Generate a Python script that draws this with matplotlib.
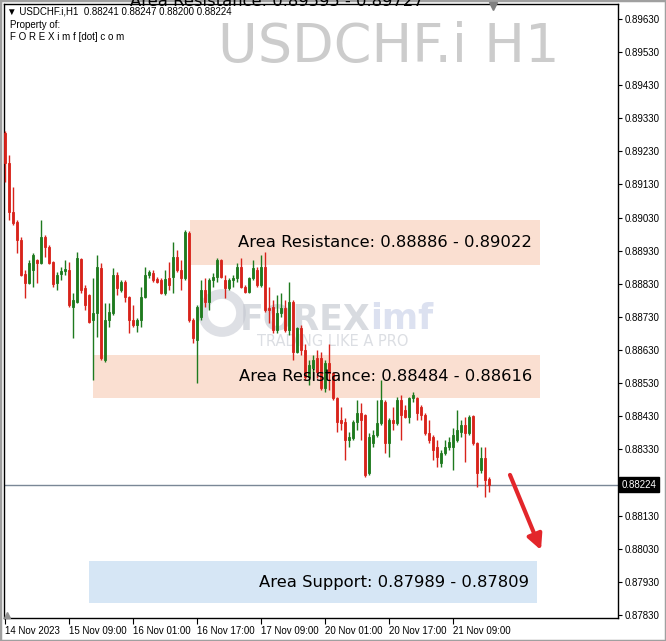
import matplotlib

matplotlib.use("Agg")

import matplotlib.pyplot as plt
import matplotlib.transforms as mtransforms
import numpy as np
from matplotlib.patches import Ellipse, Rectangle


OUTPUT_PATH = "out.png"

SYMBOL = "USDCHF.i H1"
HEADER_LINE = "\u25bc USDCHF.i,H1  0.88241 0.88247 0.88200 0.88224"

# H1 candles, 14 Nov 2023 17:00 -> 21 Nov 2023 18:00
OPEN = [
    0.89286, 0.89195, 0.89047, 0.89017, 0.88963, 0.88860, 0.88833, 0.88872, 0.88902, 0.88893,
    0.88972, 0.88942, 0.88896, 0.88833, 0.88860, 0.88869, 0.88872, 0.88760, 0.88775, 0.88905,
    0.88818, 0.88797, 0.88721, 0.88742, 0.88878, 0.88600, 0.88721, 0.88742, 0.88857, 0.88812,
    0.88836, 0.88791, 0.88721, 0.88706, 0.88721, 0.88791, 0.88857, 0.88863, 0.88845, 0.88842,
    0.88803, 0.88848, 0.88851, 0.88911, 0.88872, 0.88848, 0.88984, 0.88721, 0.88661, 0.88730,
    0.88812, 0.88775, 0.88842, 0.88851, 0.88902, 0.88842, 0.88818, 0.88842, 0.88848, 0.88881,
    0.88821, 0.88806, 0.88848, 0.88872, 0.88827, 0.88881, 0.88757, 0.88760, 0.88691, 0.88742,
    0.88757, 0.88691, 0.88775, 0.88624, 0.88697, 0.88630, 0.88549, 0.88576, 0.88606, 0.88606,
    0.88516, 0.88591, 0.88561, 0.88485, 0.88419, 0.88413, 0.88359, 0.88365, 0.88413, 0.88440,
    0.88434, 0.88259, 0.88350, 0.88374, 0.88410, 0.88473, 0.88350, 0.88419, 0.88410, 0.88479,
    0.88449, 0.88428, 0.88485, 0.88485, 0.88458, 0.88434, 0.88380, 0.88368, 0.88338, 0.88289,
    0.88320, 0.88338, 0.88338, 0.88359, 0.88383, 0.88404, 0.88380, 0.88431, 0.88350, 0.88268,
    0.88304, 0.88241,
]
HIGH = [
    0.89292, 0.89219, 0.89123, 0.89023, 0.88972, 0.88872, 0.88902, 0.88923, 0.88905, 0.89023,
    0.88978, 0.88948, 0.88899, 0.88866, 0.88881, 0.88902, 0.88896, 0.88803, 0.88926, 0.88908,
    0.88827, 0.88800, 0.88848, 0.88917, 0.88893, 0.88772, 0.88772, 0.88878, 0.88866, 0.88842,
    0.88842, 0.88794, 0.88766, 0.88727, 0.88821, 0.88881, 0.88872, 0.88872, 0.88851, 0.88848,
    0.88872, 0.88896, 0.88957, 0.88932, 0.88902, 0.88993, 0.88990, 0.88727, 0.88766, 0.88842,
    0.88848, 0.88848, 0.88863, 0.88908, 0.88905, 0.88857, 0.88848, 0.88857, 0.88893, 0.88908,
    0.88827, 0.88851, 0.88902, 0.88881, 0.88917, 0.88926, 0.88821, 0.88781, 0.88797, 0.88803,
    0.88781, 0.88836, 0.88781, 0.88700, 0.88706, 0.88648, 0.88600, 0.88615, 0.88630, 0.88624,
    0.88600, 0.88648, 0.88564, 0.88488, 0.88458, 0.88425, 0.88383, 0.88419, 0.88479, 0.88470,
    0.88437, 0.88380, 0.88389, 0.88479, 0.88540, 0.88479, 0.88425, 0.88458, 0.88488, 0.88494,
    0.88464, 0.88488, 0.88503, 0.88488, 0.88464, 0.88440, 0.88419, 0.88374, 0.88359, 0.88328,
    0.88359, 0.88368, 0.88395, 0.88449, 0.88419, 0.88428, 0.88434, 0.88434, 0.88353, 0.88338,
    0.88338, 0.88247,
]
LOW = [
    0.89138, 0.89023, 0.89008, 0.88923, 0.88854, 0.88788, 0.88830, 0.88821, 0.88833, 0.88890,
    0.88911, 0.88890, 0.88821, 0.88812, 0.88842, 0.88857, 0.88760, 0.88667, 0.88772, 0.88803,
    0.88751, 0.88712, 0.88540, 0.88670, 0.88600, 0.88594, 0.88700, 0.88736, 0.88797, 0.88806,
    0.88775, 0.88682, 0.88700, 0.88685, 0.88700, 0.88788, 0.88848, 0.88836, 0.88833, 0.88800,
    0.88797, 0.88812, 0.88803, 0.88866, 0.88812, 0.88842, 0.88715, 0.88652, 0.88531, 0.88721,
    0.88760, 0.88751, 0.88821, 0.88836, 0.88848, 0.88788, 0.88812, 0.88821, 0.88836, 0.88818,
    0.88803, 0.88803, 0.88842, 0.88821, 0.88821, 0.88745, 0.88712, 0.88682, 0.88682, 0.88730,
    0.88685, 0.88676, 0.88600, 0.88621, 0.88615, 0.88540, 0.88525, 0.88540, 0.88546, 0.88510,
    0.88504, 0.88510, 0.88479, 0.88383, 0.88389, 0.88298, 0.88338, 0.88359, 0.88389, 0.88359,
    0.88247, 0.88253, 0.88338, 0.88368, 0.88404, 0.88320, 0.88308, 0.88389, 0.88404, 0.88359,
    0.88425, 0.88410, 0.88473, 0.88419, 0.88419, 0.88374, 0.88350, 0.88298, 0.88277, 0.88277,
    0.88313, 0.88328, 0.88268, 0.88353, 0.88368, 0.88292, 0.88374, 0.88344, 0.88217, 0.88259,
    0.88186, 0.88200,
]
CLOSE = [
    0.89195, 0.89047, 0.89014, 0.88963, 0.88857, 0.88833, 0.88893, 0.88917, 0.88893, 0.88972,
    0.88942, 0.88893, 0.88830, 0.88857, 0.88869, 0.88875, 0.88766, 0.88781, 0.88908, 0.88812,
    0.88766, 0.88715, 0.88742, 0.88881, 0.88606, 0.88721, 0.88745, 0.88857, 0.88818, 0.88836,
    0.88791, 0.88721, 0.88706, 0.88721, 0.88791, 0.88857, 0.88866, 0.88842, 0.88836, 0.88803,
    0.88845, 0.88827, 0.88911, 0.88872, 0.88848, 0.88987, 0.88721, 0.88667, 0.88760, 0.88812,
    0.88775, 0.88842, 0.88851, 0.88902, 0.88851, 0.88818, 0.88842, 0.88848, 0.88881, 0.88821,
    0.88806, 0.88848, 0.88878, 0.88827, 0.88881, 0.88751, 0.88751, 0.88691, 0.88742, 0.88757,
    0.88691, 0.88775, 0.88624, 0.88697, 0.88630, 0.88549, 0.88585, 0.88600, 0.88564, 0.88516,
    0.88591, 0.88561, 0.88485, 0.88413, 0.88410, 0.88359, 0.88368, 0.88413, 0.88440, 0.88419,
    0.88253, 0.88368, 0.88374, 0.88410, 0.88479, 0.88350, 0.88419, 0.88410, 0.88479, 0.88434,
    0.88428, 0.88485, 0.88494, 0.88440, 0.88434, 0.88380, 0.88359, 0.88328, 0.88308, 0.88320,
    0.88338, 0.88353, 0.88374, 0.88389, 0.88404, 0.88380, 0.88428, 0.88350, 0.88259, 0.88304,
    0.88238, 0.88224,
]

TIME_TICKS = [0, 16, 32, 48, 64, 80, 96, 112]
TIME_LABELS = [
    "14 Nov 2023",
    "15 Nov 09:00",
    "16 Nov 01:00",
    "16 Nov 17:00",
    "17 Nov 09:00",
    "20 Nov 01:00",
    "20 Nov 17:00",
    "21 Nov 09:00",
]

PRICE_TICKS = [
    0.89630, 0.89530, 0.89430, 0.89330, 0.89230, 0.89130, 0.89030, 0.88930, 0.88830, 0.88730,
    0.88630, 0.88530, 0.88430, 0.88330, 0.88130, 0.88030, 0.87930, 0.87830,
]

# zones: label, box bottom, box top, first bar, last bar, colour
ZONE_LABELS = [
    "Area Resistance: 0.88886 - 0.89022",
    "Area Resistance: 0.88484 - 0.88616",
    "Area Support: 0.87989 - 0.87809",
]
ZONE_BOTTOM = [0.88886, 0.88484, 0.87866]
ZONE_TOP = [0.89022, 0.88616, 0.87992]
ZONE_START = [46.25, 22.0, 21.0]
ZONE_END = [133.75, 133.75, 133.0]
ZONE_COLORS = ["#FADFD1", "#FADFD1", "#D6E6F5"]

ARROW_START = (126.25, 0.88253)
ARROW_END = (134.0, 0.88026)

UP_COLOR = "#1E7A1E"
DOWN_COLOR = "#D8231B"

SCALE_FONT = "Liberation Sans"


def draw_candles(ax) -> None:
    x = np.arange(len(OPEN))
    o = np.array(OPEN)
    h = np.array(HIGH)
    l = np.array(LOW)
    c = np.array(CLOSE)

    up = c >= o
    colors = np.where(up, UP_COLOR, DOWN_COLOR)

    ax.vlines(x, l, h, colors=colors, linewidth=1.0, zorder=3)

    bottom = np.minimum(o, c)
    height = np.maximum(np.abs(c - o), 0.00003)
    ax.bar(x, height, bottom=bottom, width=0.62, color=colors,
           edgecolor=colors, linewidth=0.6, zorder=4)


def draw_zones(ax) -> None:
    for label, lo, hi, start, end, color in zip(
        ZONE_LABELS, ZONE_BOTTOM, ZONE_TOP, ZONE_START, ZONE_END, ZONE_COLORS
    ):
        ax.add_patch(
            Rectangle((start, lo), end - start, hi - lo, facecolor=color, edgecolor="none", zorder=1)
        )
        ax.text(
            end - 2.0,
            (lo + hi) / 2,
            label,
            ha="right",
            va="center",
            fontsize=11.8,
            color="black",
            zorder=6,
        )


def draw_watermarks(fig) -> None:
    fig.text(560 / 666, 1 - 62 / 641, SYMBOL, ha="right", va="baseline",
             fontsize=39, color="#CCCCCC", zorder=0.5)

    # FOREXimf logo in the middle of the chart
    fig.patches.append(
        Ellipse((222 / 666, 1 - 313 / 641), 38 / 666, 38 / 641, transform=fig.transFigure,
                facecolor="none", edgecolor="#C9CCD4", linewidth=7, alpha=0.6, zorder=0.5)
    )
    fig.text(240 / 666, 1 - 329 / 641, "FOREX", ha="left", va="baseline",
             fontsize=25, fontweight="bold", color="#BFC3CC", alpha=0.6, zorder=0.5)
    fig.text(370 / 666, 1 - 329 / 641, "imf", ha="left", va="baseline",
             fontsize=25, fontweight="bold", color="#C5CDE6", alpha=0.6, zorder=0.5)
    fig.text(257 / 666, 1 - 346 / 641, "TRADING LIKE A PRO", ha="left", va="baseline",
             fontsize=10.5, color="#D3D6DC", alpha=0.8, zorder=0.5)


def main() -> None:
    fig = plt.figure(figsize=(6.66, 6.41), dpi=100)
    fig.patch.set_facecolor("white")

    ax = fig.add_axes([4 / 666, 1 - 618 / 641, 614 / 666, 614 / 641])
    ax.set_facecolor("none")
    ax.set_zorder(1)

    draw_zones(ax)
    draw_candles(ax)

    last_close = CLOSE[-1]
    ax.axhline(last_close, color="#7A8796", linewidth=1.0, zorder=2)

    ax.annotate(
        "",
        xy=ARROW_END,
        xytext=ARROW_START,
        arrowprops=dict(arrowstyle="-|>,head_width=0.45,head_length=0.9",
                        color="#E3262B", linewidth=3, shrinkA=0, shrinkB=0),
        zorder=7,
    )

    ax.set_xlim(-0.25, 153.25)
    ax.set_ylim(0.87821, 0.89675)

    ax.yaxis.tick_right()
    ax.set_yticks(PRICE_TICKS)
    ax.set_yticklabels([f"{p:.5f}" for p in PRICE_TICKS], fontfamily=SCALE_FONT)
    ax.tick_params(axis="y", direction="out", length=3, width=0.8, pad=2, labelsize=7)

    ax.set_xticks(TIME_TICKS)
    ax.set_xticklabels(TIME_LABELS, fontfamily=SCALE_FONT)
    ax.tick_params(axis="x", direction="out", length=4, width=0.8, pad=2, labelsize=7)
    for label in ax.get_xticklabels():
        label.set_horizontalalignment("left")

    for spine in ax.spines.values():
        spine.set_color("black")
        spine.set_linewidth(1.0)

    # current price tag on the price scale
    tag_transform = mtransforms.blended_transform_factory(ax.transAxes, ax.transData)
    ax.text(1.006, last_close, f"{last_close:.5f}", transform=tag_transform,
            ha="left", va="center", fontsize=7, color="white", zorder=8,
            fontfamily=SCALE_FONT,
            bbox=dict(boxstyle="square,pad=0.3", facecolor="black", edgecolor="black"),
            clip_on=False)

    # top-left header
    fig.text(7 / 666, 1 - 11 / 641, HEADER_LINE, ha="left", va="center", fontsize=7,
             color="black", fontfamily=[SCALE_FONT, "DejaVu Sans"])
    fig.text(10 / 666, 1 - 25 / 641, "Property of:", ha="left", va="center", fontsize=7,
             color="black", fontfamily=SCALE_FONT)
    fig.text(10 / 666, 1 - 37 / 641, "F O R E X i m f [dot] c o m", ha="left", va="center",
             fontsize=7, color="black", fontfamily=SCALE_FONT)

    # clipped label of the upper zone, only the lower half is in view
    fig.text(130 / 666, 1 - 6 / 641, "Area Resistance: 0.89595 - 0.89727", ha="left",
             va="baseline", fontsize=11.8, color="black")

    draw_watermarks(fig)

    # small shift markers
    fig.lines.append(plt.Line2D([493 / 666], [1 - 6 / 641], marker="v", markersize=6,
                                color="#808080", transform=fig.transFigure))
    fig.lines.append(plt.Line2D([7 / 666], [1 - 615 / 641], marker="^", markersize=4,
                                color="#909090", transform=fig.transFigure))

    # outer window frame
    fig.patches.append(
        Rectangle((0, 0), 1, 1, transform=fig.transFigure, fill=False,
                  edgecolor="#A0A0A0", linewidth=2.5)
    )

    fig.savefig(OUTPUT_PATH, dpi=100)
    plt.close(fig)


if __name__ == "__main__":
    main()
